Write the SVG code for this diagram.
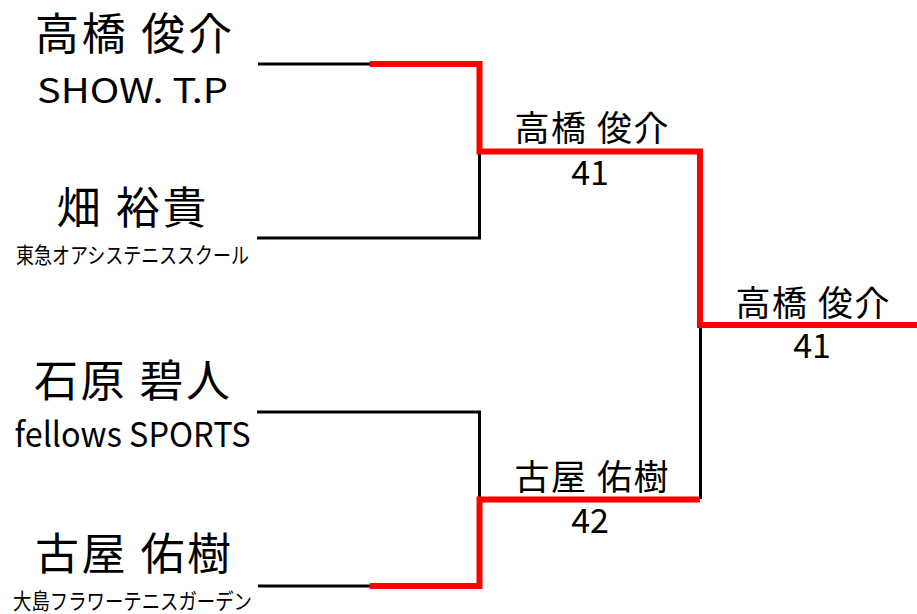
<svg xmlns="http://www.w3.org/2000/svg" width="917" height="614" viewBox="0 0 917 614">
<style>
text{font-family:"Noto Sans CJK JP","Noto Sans",sans-serif;fill:#000;text-anchor:middle}
.nm{font-size:44px}
.cl{font-size:34px}
.sm{font-size:22px}
.md{font-size:35px}
.num{font-size:34px}
.bk{fill:none;stroke:#000;stroke-width:3;stroke-linejoin:miter}
.rd{fill:none;stroke:#ff0000;stroke-width:6;stroke-linejoin:miter}
</style>
<rect width="917" height="614" fill="#fff"/>
<g id="connectors">
<path class="bk" d="M258,64 H372"/>
<path class="bk" d="M257,238 H479.5 V151"/>
<path class="bk" d="M257,412 H479.5 V499"/>
<path class="bk" d="M258,586 H372"/>
<path class="bk" d="M700.5,325 V499"/>
<path class="rd" d="M370,64 H479.5 V151.5 H700 V325 H917"/>
<path class="rd" d="M370,586 H479.5 V499.5 H700"/>
</g>
<g id="p1">
<text class="nm" x="133.5" y="50" textLength="197" lengthAdjust="spacing">高橋 俊介</text>
<text class="cl" x="132.5" y="103" textLength="191" lengthAdjust="spacingAndGlyphs">SHOW. T.P</text>
</g>
<g id="p2">
<text class="nm" x="131.5" y="224" textLength="150" lengthAdjust="spacing">畑 裕貴</text>
<text class="sm" x="132.5" y="263" textLength="233" lengthAdjust="spacingAndGlyphs">東急オアシステニススクール</text>
</g>
<g id="p3">
<text class="nm" x="132" y="397" textLength="196" lengthAdjust="spacing">石原 碧人</text>
<text class="cl" x="132.5" y="447" textLength="236" lengthAdjust="spacingAndGlyphs">fellows SPORTS</text>
</g>
<g id="p4">
<text class="nm" x="133" y="570" textLength="196" lengthAdjust="spacing">古屋 佑樹</text>
<text class="sm" x="132.5" y="609" textLength="239" lengthAdjust="spacingAndGlyphs">大島フラワーテニスガーデン</text>
</g>
<g id="sf1">
<text class="md" x="591.5" y="141" textLength="154" lengthAdjust="spacing">高橋 俊介</text>
<text class="num" x="590" y="185">41</text>
</g>
<g id="sf2">
<text class="md" x="591.5" y="490" textLength="154" lengthAdjust="spacing">古屋 佑樹</text>
<text class="num" x="590" y="533">42</text>
</g>
<g id="final">
<text class="md" x="812.5" y="316" textLength="154" lengthAdjust="spacing">高橋 俊介</text>
<text class="num" x="812" y="358">41</text>
</g>
</svg>
